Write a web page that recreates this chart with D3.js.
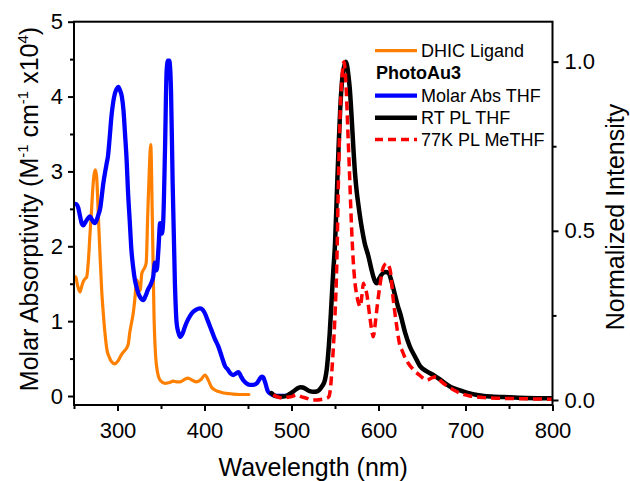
<!DOCTYPE html>
<html>
<head>
<meta charset="utf-8">
<script src="https://cdn.jsdelivr.net/npm/d3@7"></script>
<style>
  body { margin: 0; background: #fff; }
  svg { display: block; font-family: "Liberation Sans", Arial, sans-serif; }
</style>
</head>
<body>
<div id="chart"></div>
<script>
// wavelength (nm), molar absorptivity (x10^4)
var ligandAbs = [
  [250,1.6],[252,1.59],[254,1.48],[256.7,1.39],[258.5,1.45],[260.7,1.53],[263,1.57],[264.6,1.59],
  [266.5,1.8],[268.4,2.17],[270,2.45],[271.5,2.75],[273,2.95],[274.5,3.02],[276,2.93],[277,2.7],
  [278,2.4],[280,1.86],[281.8,1.42],[283.7,1.1],[285.6,0.84],[288,0.61],[290.5,0.52],[293,0.46],
  [297,0.43],[300,0.46],[303,0.52],[305.5,0.57],[308.6,0.61],[310.5,0.64],[312.5,0.7],[314,0.84],
  [316,0.97],[318,1.1],[320,1.3],[322,1.55],[324,1.5],[326,1.41],[328,1.64],[331,1.71],[333,1.78],
  [334.7,2.4],[336.5,3.0],[338.2,3.36],[340,2.4],[342,1.06],[345,0.39],[349,0.21],[354.6,0.17],
  [360,0.18],[364,0.2],[368,0.19],[372,0.19],[377,0.22],[381,0.24],[386,0.21],[391,0.19],[396,0.22],
  [400.6,0.28],[404,0.22],[408,0.12],[412,0.08],[416,0.06],[422,0.04],[430,0.03],[440,0.02],[451,0.02]
];

var complexAbs = [
  [250,2.57],[253,2.56],[255,2.51],[257,2.4],[259,2.3],[260.7,2.28],[262.5,2.31],[264.6,2.35],
  [266.5,2.38],[268.4,2.4],[270,2.37],[272,2.33],[274,2.31],[276,2.35],[278,2.42],[280,2.5],
  [283.7,2.84],[287.6,3.11],[289,3.2],[291,3.45],[293,3.73],[295,3.92],[297,4.04],[299,4.1],
  [301,4.13],[303,4.08],[305,4.0],[307,3.8],[308.6,3.51],[310.5,3.15],[312,2.75],[314,2.35],
  [316,1.95],[318,1.72],[320,1.55],[322,1.45],[324,1.37],[326,1.32],[329.7,1.28],[332,1.33],
  [335,1.42],[338.5,1.5],[341,1.59],[343,1.78],[345,1.68],[347,1.95],[349,2.31],[351,2.17],
  [352.6,2.35],[354.6,3.29],[356.5,4.35],[358,4.48],[359.5,4.48],[361.5,4.09],[363.4,2.84],
  [366,1.5],[368,0.97],[370,0.85],[372,0.79],[375,0.84],[377.6,0.93],[381,1.02],[385,1.1],
  [390,1.15],[395,1.17],[398,1.15],[400.6,1.1],[404,1.0],[408,0.88],[412,0.76],[416,0.66],
  [420,0.52],[423.6,0.4],[427,0.35],[430,0.3],[433,0.28],[436,0.3],[439,0.32],[442,0.26],
  [444.6,0.21],[448,0.17],[452,0.15],[456,0.15],[460,0.17],[463,0.22],[465.7,0.26],[467.5,0.25],
  [469.5,0.19],[473,0.06],[476,0.03],[479,0.01],[485,0.0],[490.6,0.0],[496,0.01],[500,0.02]
];

// wavelength (nm), normalized PL intensity
var rtPL = [
  [477,0.02],[481,0.012],[485,0.01],[490,0.01],[494.5,0.012],[498,0.018],[502,0.025],[506,0.033],
  [510,0.038],[513,0.037],[517,0.032],[521,0.026],[525,0.024],[529,0.025],[532,0.03],[535,0.04],
  [538.5,0.06],[540.5,0.09],[542,0.13],[544,0.2],[546,0.29],[548,0.38],[550,0.46],[552,0.6],
  [554,0.74],[556,0.86],[558,0.94],[560,0.98],[562.5,1.0],[565.4,0.96],[567,0.92],[569,0.84],
  [571,0.75],[573,0.67],[575,0.615],[577,0.575],[580.7,0.51],[584,0.465],[588.4,0.425],[592,0.385],
  [594,0.365],[596,0.35],[598,0.345],[601,0.36],[604,0.372],[608,0.378],[611.7,0.375],[615,0.35],
  [619,0.31],[622,0.28],[625,0.255],[630.5,0.2],[636,0.158],[642,0.128],[647.8,0.1],[655,0.085],
  [663,0.074],[672.6,0.057],[682,0.04],[692,0.03],[701.5,0.022],[715,0.014],[730,0.01],
  [750,0.008],[770,0.006],[800,0.005]
];

var lowTempPL = [
  [479,0.015],[485,0.008],[490.6,0.005],[495,0.008],[500,0.01],[506,0.015],[511,0.01],[517.5,0.005],
  [523,0.0],[529,0.0],[535,0.002],[540.5,0.005],[543,0.01],[545,0.04],[546.5,0.09],[548,0.15],
  [550,0.25],[552,0.394],[553.9,0.64],[555.8,0.837],[557.7,0.94],[559.6,0.995],[560.5,1.0],
  [562,0.96],[563.4,0.887],[565,0.78],[566.4,0.69],[569,0.512],[571,0.41],[573,0.345],[575,0.31],
  [577,0.287],[579,0.276],[581,0.31],[582.6,0.345],[584.5,0.33],[586.4,0.315],[590,0.246],
  [592,0.21],[594,0.187],[596,0.22],[598,0.266],[602,0.345],[605.7,0.394],[609.5,0.404],
  [613.4,0.384],[617,0.296],[621,0.217],[624.7,0.16],[626.8,0.148],[630,0.128],[634.4,0.108],
  [640,0.09],[647.8,0.072],[655.5,0.059],[661,0.065],[667,0.069],[672,0.055],[678.5,0.042],
  [686,0.03],[694,0.02],[705,0.012],[721,0.007],[740,0.005],[760,0.004],[780,0.003],[800,0.002]
];

var xTicks = [300, 400, 500, 600, 700, 800];
var xMinor = [250, 350, 450, 550, 650, 750];
var yLeftTicks = [0, 1, 2, 3, 4, 5];
var yLeftMinor = [0.5, 1.5, 2.5, 3.5, 4.5];
var yRightTicks = [0, 0.5, 1.0];
var yRightMinor = [0.25, 0.75];

var width = 630, height = 481;
var margin = {top: 21.7, right: 77.5, bottom: 76, left: 74};
var plotW = width - margin.left - margin.right;
var plotH = height - margin.top - margin.bottom;

var svg = d3.select("#chart").append("svg")
    .attr("width", width)
    .attr("height", height);

var g = svg.append("g")
    .attr("transform", "translate(" + margin.left + "," + margin.top + ")");

var x = d3.scaleLinear().domain([250, 800]).range([0, plotW]);
var yL = d3.scaleLinear().domain([-0.12, 5]).range([plotH, 0]);
var yR = d3.scaleLinear().domain([-0.0148, 1.118]).range([plotH, 0]);

// curves
var lineL = d3.line()
    .x(function(d) { return x(d[0]); })
    .y(function(d) { return yL(d[1]); })
    .curve(d3.curveMonotoneX);
var lineR = d3.line()
    .x(function(d) { return x(d[0]); })
    .y(function(d) { return yR(d[1]); })
    .curve(d3.curveMonotoneX);

g.append("clipPath").attr("id", "clip")
  .append("rect").attr("width", plotW).attr("height", plotH);

var curves = g.append("g").attr("clip-path", "url(#clip)")
    .attr("fill", "none")
    .attr("stroke-linejoin", "round")
    .attr("stroke-linecap", "round");

curves.append("path").datum(ligandAbs)
    .attr("d", lineL).attr("stroke", "#ff8000").attr("stroke-width", 3.2);
curves.append("path").datum(complexAbs)
    .attr("d", lineL).attr("stroke", "#0000ff").attr("stroke-width", 4.3);
curves.append("path").datum(rtPL)
    .attr("d", lineR).attr("stroke", "#000").attr("stroke-width", 4.5);
curves.append("path").datum(lowTempPL)
    .attr("d", lineR).attr("stroke", "#ff0000").attr("stroke-width", 3.5)
    .attr("stroke-linecap", "butt")
    .attr("stroke-dasharray", "9,5");

// frame
g.append("rect")
    .attr("width", plotW).attr("height", plotH)
    .attr("fill", "none").attr("stroke", "#000").attr("stroke-width", 2);

function styleAxis(sel) {
  sel.select(".domain").remove();
  sel.selectAll(".tick line").attr("stroke", "#000").attr("stroke-width", 2);
  sel.selectAll(".tick text").attr("fill", "#000").attr("font-size", 22)
    .attr("font-family", "'Liberation Sans', Arial, sans-serif");
}

g.append("g").attr("transform", "translate(0," + plotH + ")")
    .call(d3.axisBottom(x).tickValues(xTicks).tickSize(6).tickPadding(11).tickFormat(d3.format("d")))
    .call(styleAxis);
g.append("g").attr("transform", "translate(0," + plotH + ")")
    .call(d3.axisBottom(x).tickValues(xMinor).tickSize(4).tickFormat(""))
    .call(styleAxis);

g.append("g")
    .call(d3.axisLeft(yL).tickValues(yLeftTicks).tickSize(6).tickPadding(5).tickFormat(d3.format("d")))
    .call(styleAxis);
g.append("g")
    .call(d3.axisLeft(yL).tickValues(yLeftMinor).tickSize(4).tickFormat(""))
    .call(styleAxis);

g.append("g").attr("transform", "translate(" + plotW + ",0)")
    .call(d3.axisRight(yR).tickValues(yRightTicks).tickSize(6).tickPadding(6).tickFormat(d3.format(".1f")))
    .call(styleAxis);
g.append("g").attr("transform", "translate(" + plotW + ",0)")
    .call(d3.axisRight(yR).tickValues(yRightMinor).tickSize(4).tickFormat(""))
    .call(styleAxis);

// axis titles
svg.append("text")
    .attr("x", margin.left + plotW / 2).attr("y", 476)
    .attr("text-anchor", "middle").attr("font-size", 25)
    .text("Wavelength (nm)");

var yTitle = svg.append("text")
    .attr("transform", "translate(38,209) rotate(-90)")
    .attr("text-anchor", "middle").attr("font-size", 25);
yTitle.append("tspan").text("Molar Absorptivity (M");
yTitle.append("tspan").attr("font-size", 15).attr("dy", -10).text("-1");
yTitle.append("tspan").attr("dy", 10).text(" cm");
yTitle.append("tspan").attr("font-size", 15).attr("dy", -10).text("-1");
yTitle.append("tspan").attr("dy", 10).text(" x10");
yTitle.append("tspan").attr("font-size", 15).attr("dy", -10).text("4");
yTitle.append("tspan").attr("dy", 10).text(")");

svg.append("text")
    .attr("transform", "translate(624,217) rotate(-90)")
    .attr("text-anchor", "middle").attr("font-size", 25)
    .text("Normalized Intensity");

// legend
var legendRows = [
  {label: "DHIC Ligand", color: "#ff8000", width: 3.2, dash: null, y: 50.7},
  {label: "PhotoAu3", header: true, y: 73},
  {label: "Molar Abs THF", color: "#0000ff", width: 4.3, dash: null, y: 95.7},
  {label: "RT PL THF", color: "#000", width: 4.5, dash: null, y: 117.7},
  {label: "77K PL MeTHF", color: "#ff0000", width: 3.5, dash: "8,5", y: 139.5}
];

var legend = svg.append("g").attr("font-size", 18);
legendRows.forEach(function(r) {
  if (r.header) {
    legend.append("text").attr("x", 376).attr("y", r.y).attr("dy", "0.35em")
      .attr("font-weight", "bold").text(r.label);
    return;
  }
  legend.append("line")
    .attr("x1", 375).attr("x2", 417).attr("y1", r.y).attr("y2", r.y)
    .attr("stroke", r.color).attr("stroke-width", r.width)
    .attr("stroke-dasharray", r.dash);
  legend.append("text").attr("x", 421).attr("y", r.y).attr("dy", "0.35em").text(r.label);
});
</script>
</body>
</html>
